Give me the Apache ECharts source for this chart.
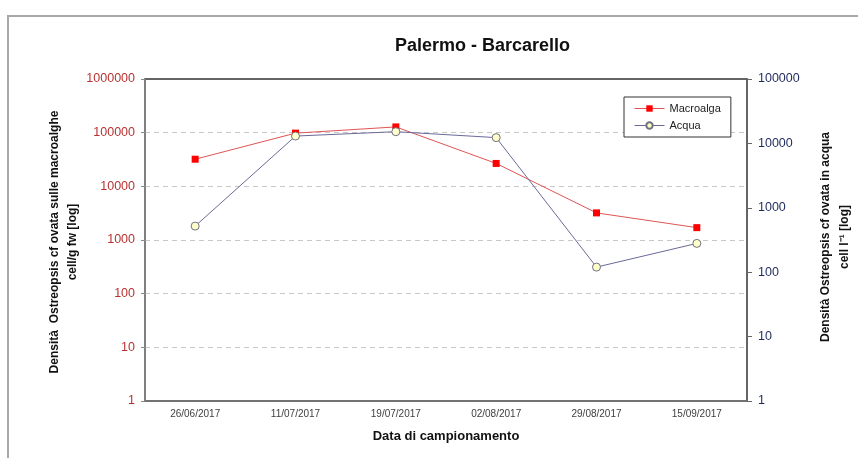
<!DOCTYPE html>
<html>
<head>
<meta charset="utf-8">
<script src="https://cdn.jsdelivr.net/npm/echarts@6/dist/echarts.min.js"></script>
<style>
  html, body { margin: 0; padding: 0; background: #fff; }
  #chart { width: 858px; height: 458px; }
</style>
</head>
<body>
<div id="chart"></div>
<script>
// Sampling dates
const dates = ['26/06/2017', '11/07/2017', '19/07/2017', '02/08/2017', '29/08/2017', '15/09/2017'];
// Ostreopsis cf ovata density on macroalgae, cell/g fw
const macroalga = [32000, 98000, 128000, 26700, 3200, 1700];
// Ostreopsis cf ovata density in water, cell/l
const acqua = [520, 13000, 15200, 12300, 120, 280];

const fontFamily = '"Liberation Sans", Arial, sans-serif';
const plain = v => String(Math.round(v));

const chart = echarts.init(document.getElementById('chart'), null, { renderer: 'canvas' });

chart.setOption({
  backgroundColor: '#ffffff',
  animation: false,
  title: {
    text: 'Palermo - Barcarello',
    left: 390,
    top: 32,
    textStyle: { fontFamily, fontSize: 18, fontWeight: 'bold', color: '#111' }
  },
  legend: {
    orient: 'vertical',
    left: 624,
    top: 97,
    padding: [6, 10, 6, 10],
    itemGap: 6,
    itemWidth: 30,
    itemHeight: 8,
    borderColor: '#333',
    borderWidth: 1,
    backgroundColor: '#fff',
    lineStyle: { width: 1 },
    textStyle: { fontFamily, fontSize: 11, color: '#222' },
    data: ['Macroalga', 'Acqua']
  },
  grid: {
    left: 145,
    right: 111,
    top: 79,
    bottom: 57,
    show: true,
    borderColor: '#333',
    borderWidth: 1.5,
    backgroundColor: 'transparent'
  },
  xAxis: {
    type: 'category',
    data: dates,
    boundaryGap: true,
    axisLine: { lineStyle: { color: '#777', width: 1.5 } },
    axisTick: { show: false },
    axisLabel: { fontFamily, fontSize: 10, color: '#404040', margin: 8, interval: 0 },
    splitLine: { show: false }
  },
  yAxis: [
    {
      type: 'log',
      logBase: 10,
      min: 1,
      max: 1000000,
      splitNumber: 6,
      position: 'left',
      axisLine: { show: true, lineStyle: { color: '#888', width: 1.5 } },
      axisTick: { show: true, length: 4, lineStyle: { color: '#888' } },
      axisLabel: { fontFamily, fontSize: 12.5, color: '#b83232', margin: 10, formatter: plain },
      splitLine: {
        show: true,
        showMaxLine: false,
        showMinLine: false,
        lineStyle: { color: '#c8c8c8', type: [5, 4], width: 1 }
      }
    },
    {
      type: 'log',
      logBase: 10,
      min: 1,
      max: 100000,
      splitNumber: 5,
      position: 'right',
      axisLine: { show: true, lineStyle: { color: '#666', width: 1.5 } },
      axisTick: { show: true, length: 5, lineStyle: { color: '#666' } },
      axisLabel: { fontFamily, fontSize: 12.5, color: '#1f2a5c', margin: 11, formatter: plain },
      splitLine: { show: false }
    }
  ],
  series: [
    {
      name: 'Macroalga',
      type: 'line',
      yAxisIndex: 0,
      data: macroalga,
      symbol: 'rect',
      symbolSize: 7,
      lineStyle: { color: '#e05555', width: 1 },
      itemStyle: { color: '#ff0000', borderWidth: 0 }
    },
    {
      name: 'Acqua',
      type: 'line',
      yAxisIndex: 1,
      data: acqua,
      symbol: 'circle',
      symbolSize: 8,
      lineStyle: { color: '#6a6a98', width: 1 },
      itemStyle: { color: '#ffffcc', borderColor: '#707080', borderWidth: 1 }
    }
  ],
  graphic: [
    {
      type: 'rect',
      silent: true,
      shape: { x: 8, y: 16, width: 900, height: 500 },
      style: { fill: 'none', stroke: '#a8a8a8', lineWidth: 2 }
    },
    {
      type: 'text',
      x: 64,
      y: 242,
      rotation: Math.PI / 2,
      style: {
        text: 'Densità  Ostreopsis cf ovata sulle macroalghe\ncell/g fw [log]',
        font: 'bold 12px "Liberation Sans", Arial, sans-serif',
        fill: '#111',
        align: 'center',
        verticalAlign: 'middle',
        textAlign: 'center',
        textVerticalAlign: 'middle',
        lineHeight: 18
      }
    },
    {
      type: 'text',
      x: 835,
      y: 237,
      rotation: Math.PI / 2,
      style: {
        text: 'Densità Ostreopsis cf ovata in acqua\ncell l\u207B\u00B9 [log]',
        font: 'bold 12px "Liberation Sans", Arial, sans-serif',
        fill: '#111',
        align: 'center',
        verticalAlign: 'middle',
        textAlign: 'center',
        textVerticalAlign: 'middle',
        lineHeight: 19
      }
    },
    {
      type: 'text',
      x: 446,
      y: 436,
      style: {
        text: 'Data di campionamento',
        font: 'bold 13px "Liberation Sans", Arial, sans-serif',
        fill: '#111',
        align: 'center',
        verticalAlign: 'middle',
        textAlign: 'center',
        textVerticalAlign: 'middle'
      }
    }
  ]
});
</script>
</body>
</html>
